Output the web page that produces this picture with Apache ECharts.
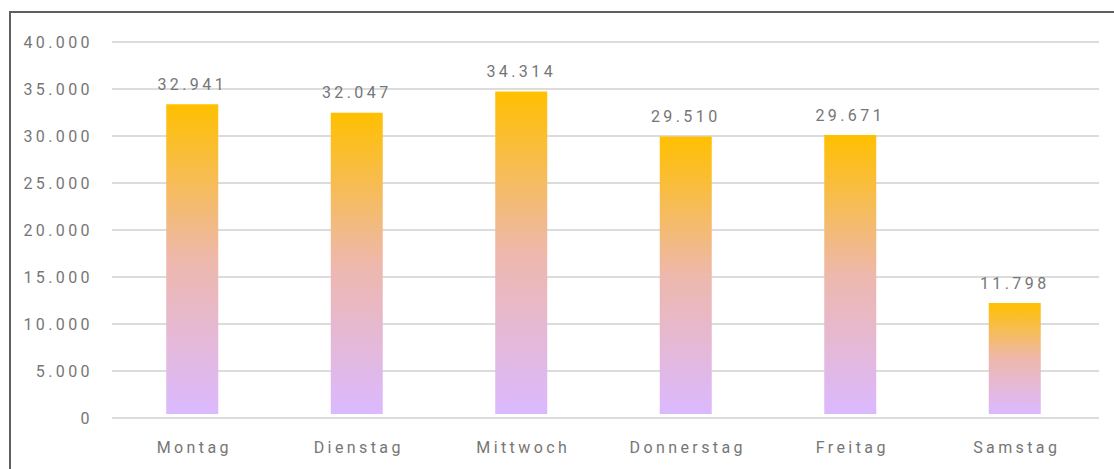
<!DOCTYPE html>
<html>
<head>
<meta charset="utf-8">
<script src="https://cdn.jsdelivr.net/npm/echarts@6/dist/echarts.min.js"></script>
<style>
  html, body { margin: 0; padding: 0; background: #fff; }
  #chart { width: 1114px; height: 469px; }
  #chart text { letter-spacing: 3.4px; }
</style>
</head>
<body>
<div id="chart"></div>
<script>
// Besucher pro Wochentag
const days = ["Montag", "Dienstag", "Mittwoch", "Donnerstag", "Freitag", "Samstag"];
const visitors = [32941, 32047, 34314, 29510, 29671, 11798];
const yTicks = { min: 0, max: 40000, step: 5000 };

const FONT = "Roboto, 'Noto Sans', sans-serif";
const TEXT = "#767676";

function de(n) {
    return String(n).replace(/\B(?=(\d{3})+(?!\d))/g, ".");
}

const chart = echarts.init(document.getElementById("chart"), null, { renderer: "svg" });

const barFill = new echarts.graphic.LinearGradient(0, 0, 0, 1, [
    { offset: 0, color: "#FFC000" },
    { offset: 0.5, color: "#EEB8AC" },
    { offset: 1, color: "#DBB9FF" }
]);

chart.setOption({
    backgroundColor: "#fff",
    animation: false,
    graphic: [{
        type: "polyline",
        shape: { points: [[10, 469], [10, 12], [1114, 12]] },
        style: { stroke: "#5f5f5f", lineWidth: 2, fill: null },
        silent: true
    }],
    grid: [
        { left: 112, right: 15, top: 42, bottom: 51 },
        // bars sit a few pixels above the zero line in the original
        { left: 110, right: 17, top: 38, bottom: 55 }
    ],
    xAxis: [{
        gridIndex: 0,
        type: "category",
        data: days,
        axisLine: { show: false },
        axisTick: { show: false },
        axisLabel: { color: TEXT, fontFamily: FONT, fontSize: 16, margin: 21 }
    }, {
        gridIndex: 1,
        type: "category",
        data: days,
        show: false
    }],
    yAxis: [{
        gridIndex: 0,
        type: "value",
        min: yTicks.min,
        max: yTicks.max,
        interval: yTicks.step,
        axisLine: { show: false },
        axisTick: { show: false },
        axisLabel: { color: TEXT, fontFamily: FONT, fontSize: 16, margin: 19, formatter: de },
        splitLine: { lineStyle: { color: "#dcdcdc", width: 2 } }
    }, {
        gridIndex: 1,
        type: "value",
        min: yTicks.min,
        max: yTicks.max,
        interval: yTicks.step,
        show: false,
        splitLine: { show: false }
    }],
    series: [{
        type: "bar",
        xAxisIndex: 1,
        yAxisIndex: 1,
        data: visitors,
        barWidth: 52,
        itemStyle: { color: barFill },
        label: {
            show: true,
            position: "top",
            distance: 12,
            color: TEXT,
            fontFamily: FONT,
            fontSize: 16,
            formatter: (p) => de(p.value)
        }
    }]
});
</script>
</body>
</html>
